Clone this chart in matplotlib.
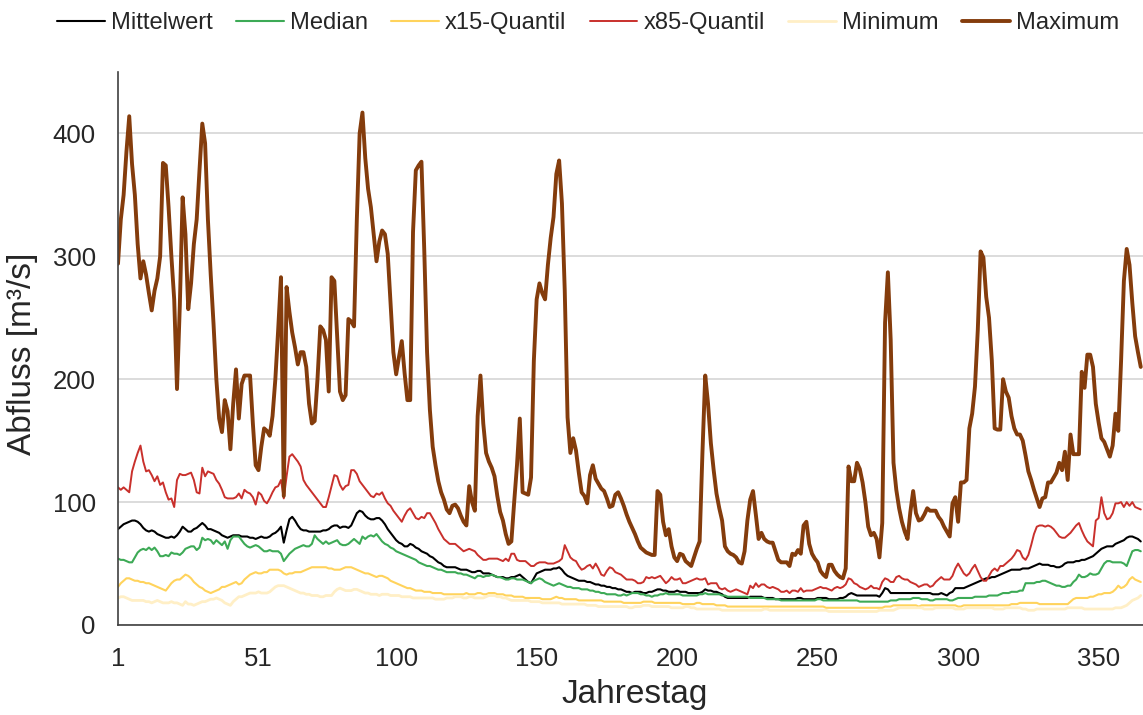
import matplotlib
matplotlib.use("Agg")
import matplotlib.pyplot as plt
import numpy as np

plt.rcParams['font.family'] = ['Liberation Sans', 'DejaVu Sans']

# Daily discharge statistics per day of year [m³/s]
mittelwert = [
    78, 80, 82, 83, 84, 85, 85, 84, 82, 79,
    77, 76, 77, 76, 74, 73, 72, 71, 71, 72,
    71, 73, 76, 80, 78, 76, 76, 78, 79, 81,
    83, 81, 78, 78, 77, 76, 75, 73, 72, 71,
    72, 73, 73, 73, 72, 72, 72, 71, 71, 70,
    71, 72, 71, 71, 72, 74, 75, 77, 80, 67,
    77, 86, 88, 85, 81, 78, 77, 77, 76, 76,
    76, 76, 76, 77, 77, 78, 80, 81, 81, 79,
    80, 80, 79, 81, 86, 91, 93, 92, 89, 87,
    86, 86, 87, 87, 85, 82, 78, 75, 72, 69,
    67, 66, 64, 64, 66, 65, 63, 62, 60, 59,
    58, 56, 55, 53, 51, 50, 48, 47, 47, 47,
    47, 46, 45, 45, 45, 44, 43, 43, 44, 44,
    42, 42, 42, 41, 40, 39, 39, 39, 38, 38,
    39, 39, 40, 41, 39, 37, 35, 34, 38, 42,
    43, 44, 45, 45, 45, 46, 46, 47, 45, 42,
    40, 39, 38, 37, 36, 36, 36, 35, 35, 34,
    33, 33, 32, 32, 31, 31, 30, 30, 29, 29,
    28, 27, 27, 26, 27, 27, 27, 26, 26, 27,
    27, 28, 29, 29, 28, 28, 27, 27, 27, 28,
    27, 27, 27, 26, 26, 26, 26, 26, 27, 29,
    28, 28, 27, 27, 26, 25, 23, 22, 22, 22,
    22, 22, 22, 22, 22, 23, 23, 23, 23, 23,
    22, 22, 22, 22, 21, 21, 21, 21, 21, 21,
    21, 21, 22, 22, 21, 21, 21, 21, 21, 22,
    22, 22, 22, 21, 21, 21, 21, 22, 22, 23,
    25, 26, 25, 24, 24, 24, 24, 24, 24, 24,
    24, 23, 26, 30, 29, 26, 26, 26, 26, 26,
    26, 26, 26, 26, 26, 26, 26, 26, 26, 26,
    25, 25, 25, 26, 25, 24, 26, 27, 30, 30,
    30, 30, 31, 32, 33, 34, 35, 36, 37, 38,
    38, 39, 39, 40, 41, 42, 43, 44, 45, 45,
    45, 45, 46, 46, 46, 47, 48, 49, 50, 49,
    49, 49, 48, 48, 47, 47, 48, 50, 51, 51,
    51, 52, 52, 53, 53, 54, 55, 56, 58, 60,
    62, 63, 64, 64, 64, 66, 67, 68, 69, 71,
    72, 72, 71, 70, 68,
]

median = [
    54, 53, 53, 52, 51, 51, 55, 59, 61, 62,
    61, 63, 61, 63, 60, 56, 56, 57, 56, 59,
    58, 58, 57, 59, 62, 63, 64, 64, 61, 63,
    71, 69, 70, 69, 66, 69, 67, 65, 68, 62,
    69, 72, 72, 72, 69, 66, 64, 63, 64, 65,
    64, 62, 60, 60, 61, 60, 60, 60, 58, 52,
    55, 58, 60, 62, 63, 64, 65, 64, 64, 66,
    73, 70, 68, 66, 68, 66, 67, 68, 69, 66,
    65, 65, 66, 68, 70, 68, 66, 72, 70, 72,
    73, 72, 74, 71, 68, 66, 65, 63, 62, 60,
    59, 58, 57, 56, 55, 54, 53, 51, 50, 49,
    48, 48, 47, 46, 45, 45, 44, 43, 43, 43,
    43, 42, 42, 41, 41, 40, 39, 38, 40, 40,
    39, 40, 40, 41, 40, 39, 39, 38, 37, 37,
    38, 38, 37, 37, 37, 36, 35, 34, 36, 37,
    38, 37, 35, 34, 33, 32, 33, 34, 33, 32,
    31, 31, 30, 30, 30, 29, 29, 29, 28, 28,
    27, 27, 26, 26, 25, 25, 25, 25, 24, 24,
    25, 24, 25, 26, 26, 26, 25, 25, 24, 24,
    23, 24, 24, 25, 25, 26, 25, 25, 25, 25,
    25, 24, 24, 24, 24, 24, 24, 25, 25, 26,
    25, 25, 25, 25, 25, 24, 24, 23, 23, 23,
    23, 23, 23, 23, 23, 22, 22, 22, 22, 22,
    22, 21, 21, 21, 21, 21, 20, 20, 20, 20,
    20, 20, 20, 20, 20, 20, 20, 20, 20, 21,
    21, 20, 20, 20, 20, 20, 20, 20, 20, 20,
    20, 20, 20, 20, 19, 19, 19, 19, 19, 19,
    19, 19, 19, 19, 19, 20, 20, 20, 21, 21,
    21, 21, 21, 22, 22, 22, 21, 21, 21, 20,
    20, 21, 21, 21, 21, 21, 20, 20, 21, 22,
    22, 22, 22, 22, 22, 23, 23, 23, 23, 23,
    24, 24, 24, 24, 25, 26, 26, 26, 27, 27,
    27, 28, 28, 34, 34, 34, 34, 35, 35, 36,
    36, 35, 34, 33, 32, 32, 31, 31, 32, 32,
    35, 37, 41, 39, 39, 40, 42, 41, 41, 42,
    46, 50, 52, 52, 51, 51, 51, 51, 50, 48,
    54, 60, 61, 61, 60,
]

quantil_15 = [
    31, 34, 36, 38, 38, 37, 36, 36, 35, 35,
    34, 34, 33, 32, 31, 30, 29, 28, 31, 34,
    36, 37, 37, 39, 41, 40, 38, 35, 33, 31,
    30, 28, 27, 26, 27, 28, 29, 31, 31, 32,
    33, 34, 35, 33, 34, 37, 39, 41, 42, 43,
    42, 42, 43, 43, 45, 45, 45, 45, 44, 42,
    41, 42, 42, 43, 43, 43, 44, 45, 46, 47,
    47, 47, 47, 47, 47, 46, 46, 45, 45, 45,
    46, 47, 47, 47, 46, 45, 44, 43, 42, 42,
    41, 40, 39, 40, 40, 39, 38, 36, 35, 34,
    33, 32, 31, 30, 30, 29, 28, 28, 28, 27,
    27, 27, 26, 26, 26, 26, 25, 25, 25, 25,
    25, 25, 25, 25, 26, 25, 25, 25, 26, 26,
    25, 25, 26, 26, 26, 25, 25, 25, 24, 24,
    24, 23, 23, 23, 23, 22, 22, 22, 22, 22,
    22, 21, 21, 21, 21, 22, 23, 22, 22, 21,
    21, 21, 21, 21, 20, 20, 20, 20, 20, 20,
    20, 20, 20, 19, 19, 19, 19, 19, 19, 19,
    18, 18, 18, 18, 18, 18, 18, 19, 19, 19,
    19, 18, 18, 18, 18, 18, 18, 18, 18, 18,
    18, 17, 17, 17, 17, 17, 18, 18, 17, 17,
    17, 17, 17, 16, 16, 16, 16, 15, 15, 15,
    15, 15, 15, 15, 15, 15, 15, 15, 15, 15,
    15, 15, 15, 15, 15, 15, 15, 15, 15, 15,
    15, 15, 15, 15, 15, 15, 15, 15, 15, 15,
    15, 15, 14, 14, 14, 14, 14, 14, 14, 14,
    14, 14, 14, 14, 14, 14, 14, 14, 14, 14,
    14, 14, 14, 15, 15, 15, 16, 16, 16, 16,
    16, 16, 16, 16, 16, 15, 16, 16, 16, 16,
    16, 16, 16, 16, 16, 16, 16, 16, 16, 15,
    15, 16, 16, 16, 16, 16, 16, 16, 16, 16,
    16, 16, 16, 16, 16, 16, 16, 16, 17, 17,
    17, 18, 18, 18, 18, 18, 18, 18, 17, 17,
    17, 17, 17, 17, 17, 17, 17, 17, 17, 19,
    21, 22, 22, 22, 22, 22, 23, 23, 24, 25,
    25, 26, 26, 26, 27, 29, 32, 30, 31, 33,
    37, 39, 37, 36, 35,
]

quantil_85 = [
    112, 110, 112, 110, 108, 125, 133, 140, 146, 133,
    125, 126, 122, 117, 121, 114, 116, 108, 102, 103,
    96, 118, 123, 122, 122, 123, 124, 118, 108, 107,
    128, 121, 125, 124, 123, 118, 115, 110, 104, 103,
    103, 103, 104, 107, 103, 110, 108, 107, 104, 98,
    108, 106, 101, 99, 103, 108, 112, 113, 118, 103,
    121, 137, 139, 136, 133, 129, 118, 114, 111, 108,
    105, 102, 99, 96, 96, 104, 113, 122, 121, 114,
    110, 113, 114, 126, 126, 123, 117, 114, 111, 108,
    105, 104, 107, 106, 108, 103, 99, 97, 93, 90,
    87, 84, 89, 93, 95, 91, 87, 86, 88, 87,
    91, 91, 87, 83, 78, 74, 70, 68, 66, 66,
    66, 64, 62, 60, 61, 62, 61, 60, 57, 55,
    53, 53, 54, 54, 54, 54, 53, 52, 54, 52,
    58, 58, 53, 52, 52, 52, 50, 48, 48, 50,
    51, 51, 51, 50, 50, 50, 51, 52, 54, 65,
    60, 55, 53, 52, 48, 45, 46, 48, 49, 46,
    50, 46, 41, 40, 44, 47, 46, 43, 42, 41,
    39, 37, 37, 37, 36, 34, 34, 35, 39, 38,
    39, 38, 39, 40, 37, 34, 36, 39, 37, 37,
    38, 34, 34, 35, 36, 37, 38, 37, 37, 38,
    33, 34, 34, 34, 30, 29, 30, 28, 27, 28,
    29, 28, 27, 26, 25, 32, 30, 34, 31, 33,
    33, 31, 30, 31, 30, 29, 27, 27, 28, 26,
    28, 28, 27, 30, 27, 28, 28, 28, 29, 30,
    31, 30, 30, 29, 28, 30, 31, 30, 31, 33,
    38, 37, 34, 33, 31, 30, 29, 30, 32, 30,
    30, 29, 35, 38, 37, 35, 35, 39, 40, 38,
    37, 37, 35, 34, 33, 31, 32, 33, 33, 31,
    32, 35, 37, 39, 37, 37, 37, 40, 46, 50,
    46, 42, 40, 42, 46, 49, 44, 39, 36, 36,
    40, 44, 46, 44, 48, 48, 50, 52, 54, 57,
    61, 60, 55, 53, 57, 65, 74, 80, 81, 81,
    80, 81, 80, 78, 75, 72, 71, 71, 73, 75,
    78, 81, 83, 77, 72, 68, 66, 64, 85, 87,
    104, 91, 86, 87, 91, 99, 99, 100, 96, 100,
    97, 100, 96, 95, 94,
]

minimum = [
    22, 23, 23, 22, 21, 20, 20, 20, 20, 20,
    19, 19, 18, 19, 20, 19, 18, 18, 18, 19,
    18, 18, 17, 16, 19, 17, 17, 16, 17, 18,
    19, 19, 20, 21, 21, 22, 21, 20, 18, 17,
    16, 19, 21, 23, 23, 24, 25, 26, 26, 26,
    27, 26, 26, 26, 27, 29, 31, 32, 32, 32,
    31, 30, 29, 28, 27, 26, 26, 25, 25, 24,
    24, 24, 23, 23, 24, 24, 24, 27, 29, 30,
    29, 28, 28, 28, 29, 29, 28, 27, 26, 26,
    25, 25, 25, 24, 25, 25, 25, 24, 24, 24,
    24, 23, 23, 23, 23, 22, 22, 22, 22, 22,
    22, 22, 22, 21, 21, 21, 21, 22, 22, 22,
    23, 23, 23, 22, 22, 23, 23, 22, 22, 22,
    22, 23, 24, 24, 24, 23, 23, 22, 22, 21,
    20, 20, 20, 20, 20, 20, 20, 19, 19, 19,
    19, 18, 18, 18, 18, 18, 18, 18, 17, 17,
    17, 17, 17, 17, 17, 17, 17, 16, 16, 16,
    16, 15, 15, 15, 15, 15, 15, 15, 15, 15,
    15, 15, 14, 14, 15, 15, 15, 16, 16, 16,
    15, 15, 15, 15, 15, 15, 15, 14, 14, 14,
    14, 14, 15, 15, 14, 14, 13, 13, 13, 13,
    13, 13, 13, 13, 13, 12, 12, 12, 12, 12,
    12, 12, 12, 12, 12, 12, 12, 12, 12, 12,
    13, 13, 12, 12, 12, 12, 12, 12, 12, 12,
    12, 12, 12, 12, 12, 12, 12, 12, 12, 12,
    12, 12, 12, 11, 11, 11, 11, 11, 11, 11,
    11, 11, 11, 11, 11, 11, 11, 11, 11, 11,
    11, 12, 12, 12, 12, 12, 12, 13, 14, 14,
    14, 14, 14, 14, 14, 14, 14, 13, 13, 13,
    13, 14, 14, 14, 14, 14, 14, 14, 13, 13,
    13, 13, 14, 14, 14, 14, 14, 14, 14, 14,
    14, 14, 13, 13, 13, 13, 14, 14, 14, 14,
    14, 14, 13, 13, 12, 12, 12, 13, 13, 13,
    13, 13, 13, 13, 13, 13, 13, 13, 14, 14,
    14, 14, 14, 14, 13, 13, 13, 13, 13, 13,
    13, 13, 13, 13, 13, 14, 14, 14, 15, 16,
    18, 20, 21, 22, 24,
]

maximum = [
    294, 330, 350, 385, 414, 375, 350, 310, 282, 296,
    285, 270, 256, 272, 282, 300, 376, 374, 340, 300,
    265, 192, 260, 348, 318, 257, 278, 310, 330, 370,
    408, 392, 330, 285, 245, 200, 168, 157, 183, 174,
    143, 180, 208, 168, 196, 203, 203, 203, 164, 130,
    126, 145, 160, 158, 154, 170, 200, 240, 283, 105,
    275, 255, 238, 226, 212, 222, 222, 210, 180, 164,
    166, 200, 243, 240, 232, 190, 283, 280, 235, 190,
    183, 187, 249, 247, 243, 330, 400, 417, 380, 355,
    340, 318, 296, 312, 321, 318, 302, 262, 222, 204,
    218, 231, 205, 183, 183, 320, 370, 374, 377, 305,
    222, 175, 145, 130, 117, 108, 102, 94, 91, 97,
    98, 95, 89, 84, 81, 113, 100, 93, 170, 203,
    164, 140, 133, 128, 121, 105, 92, 85, 74, 66,
    68, 100, 130, 168, 108, 107, 106, 120, 215, 265,
    278, 270, 265, 293, 315, 332, 367, 378, 343, 272,
    169, 140, 152, 142, 124, 108, 105, 99, 122, 130,
    119, 115, 111, 109, 103, 96, 97, 106, 108, 103,
    97, 90, 84, 79, 74, 68, 63, 61, 59, 58,
    57, 57, 109, 106, 84, 73, 78, 64, 55, 52,
    58, 57, 52, 50, 48, 55, 62, 68, 140, 203,
    180, 148, 126, 107, 95, 85, 64, 60, 58, 57,
    55, 51, 50, 60, 85, 102, 109, 90, 70, 75,
    70, 68, 67, 67, 60, 53, 51, 51, 51, 48,
    58, 57, 61, 58, 81, 84, 66, 58, 54, 51,
    44, 41, 39, 49, 49, 44, 41, 39, 38, 46,
    129, 117, 117, 132, 127, 116, 100, 80, 73, 75,
    70, 55, 83, 246, 287, 232, 132, 110, 95, 84,
    76, 70, 92, 109, 91, 85, 86, 90, 95, 93,
    93, 93, 88, 85, 80, 76, 72, 99, 104, 84,
    116, 116, 118, 160, 172, 194, 240, 304, 299, 267,
    250, 215, 160, 159, 159, 200, 190, 185, 170, 160,
    155, 155, 150, 138, 125, 118, 110, 103, 96, 103,
    104, 116, 116, 120, 124, 132, 126, 141, 118, 155,
    139, 139, 139, 206, 193, 220, 220, 210, 180, 165,
    152, 149, 143, 137, 146, 172, 158, 215, 280, 306,
    293, 262, 235, 222, 210,
]

labels = ["Mittelwert", "Median", "x15-Quantil", "x85-Quantil", "Minimum", "Maximum"]
x_tick_days = [1, 51, 100, 150, 200, 250, 300, 350]
y_ticks = [0, 100, 200, 300, 400]

series = [mittelwert, median, quantil_15, quantil_85, minimum, maximum]
colors = ["#000000", "#3DAA56", "#FFD35C", "#C9302C", "#FFEFC6", "#843C0C"]
widths = [1.5, 1.5, 1.5, 1.4, 2.0, 2.8]

W, H = 1143, 715
fig = plt.figure(figsize=(W / 100, H / 100), dpi=100)
ax = fig.add_axes([118 / W, 90 / H, 1025 / W, 553 / H])

handles = []
for vals, lab, col, lw in zip(series, labels, colors, widths):
    days = np.arange(1, len(vals) + 1)
    h, = ax.plot(days, vals, color=col, lw=lw, label=lab,
                 solid_joinstyle="round", solid_capstyle="round")
    handles.append(h)

ax.set_xlim(1, 365.8)
ax.set_ylim(0, 450)
ax.set_xticks(x_tick_days)
ax.set_xticklabels([str(d) for d in x_tick_days])
ax.set_yticks(y_ticks)
ax.grid(axis="y", color="#d9d9d9", lw=1.3)
ax.set_axisbelow(True)
ax.tick_params(length=0, pad=16, labelsize=18.5, labelcolor="#262626")

for side in ("top", "right"):
    ax.spines[side].set_visible(False)
for side in ("left", "bottom"):
    ax.spines[side].set_color("#404040")
    ax.spines[side].set_linewidth(1.2)

ax.set_xlabel("Jahrestag", fontsize=24, color="#262626")
ax.xaxis.set_label_coords(0.504, -0.098)
ax.set_ylabel("Abfluss [m³/s]", fontsize=24, color="#262626")
ax.yaxis.set_label_coords(-0.078, 0.49)

leg = fig.legend(handles, labels, loc="center", bbox_to_anchor=(588 / W, 1 - 23 / H),
                 ncol=6, frameon=False, fontsize=17.1, handlelength=2.0,
                 handletextpad=0.25, columnspacing=1.0)
for t in leg.get_texts():
    t.set_color("#262626")

fig.savefig("out.png", dpi=100)
